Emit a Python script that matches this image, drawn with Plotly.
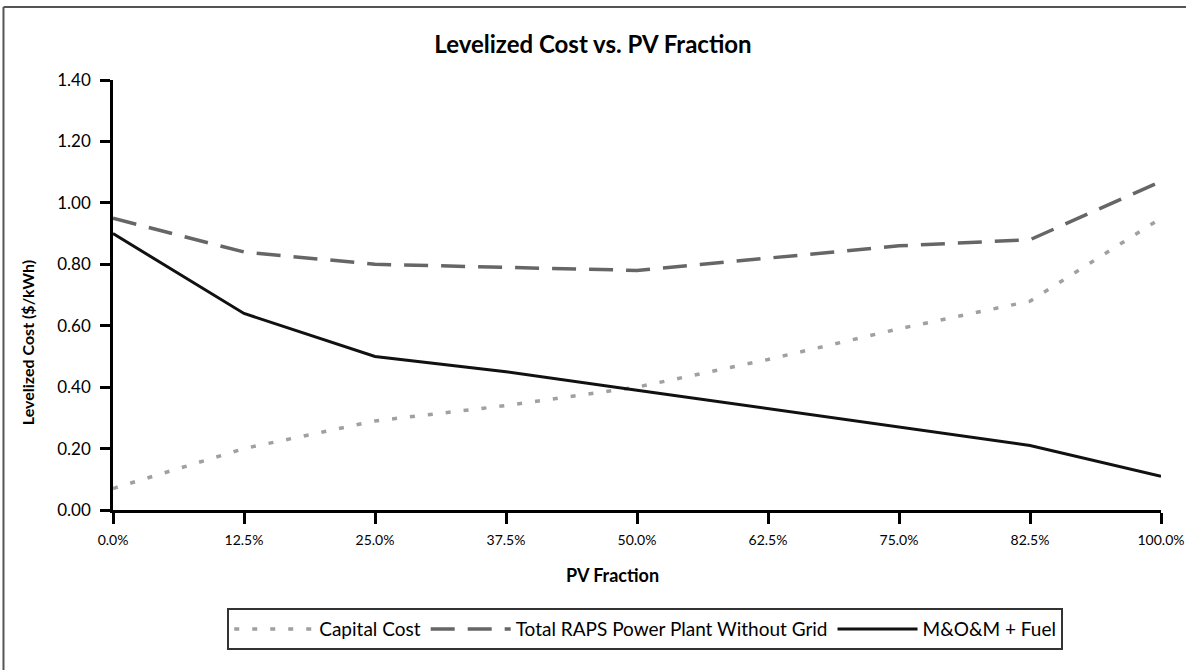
import plotly.graph_objects as go

# PV fraction categories (evenly spaced on the original chart)
pv_fraction = ["0.0%", "12.5%", "25.0%", "37.5%", "50.0%", "62.5%", "75.0%", "82.5%", "100.0%"]

capital_cost = [0.07, 0.20, 0.29, 0.34, 0.40, 0.49, 0.59, 0.68, 0.95]
total_raps = [0.95, 0.84, 0.80, 0.79, 0.78, 0.82, 0.86, 0.88, 1.07]
mom_fuel = [0.90, 0.64, 0.50, 0.45, 0.39, 0.33, 0.27, 0.21, 0.11]

y_ticks = [0.0, 0.2, 0.4, 0.6, 0.8, 1.0, 1.2, 1.4]

FONT = "Lato"

fig = go.Figure()

fig.add_trace(go.Scatter(
    x=pv_fraction, y=capital_cost, name="Capital Cost", mode="lines",
    line=dict(color="#a0a0a0", width=3.5, dash="5px,13px"),
))
fig.add_trace(go.Scatter(
    x=pv_fraction, y=total_raps, name="Total RAPS Power Plant Without Grid", mode="lines",
    line=dict(color="#666666", width=3.5, dash="24px,13px"),
))
fig.add_trace(go.Scatter(
    x=pv_fraction, y=mom_fuel, name="M&O&M + Fuel", mode="lines",
    line=dict(color="#111111", width=3),
))

# thin frame remnant just right of the last category
fig.add_shape(type="line", xref="x", yref="y", x0=8.07, x1=8.07,
              y0=mom_fuel[-1], y1=total_raps[-1],
              line=dict(color="#777777", width=1.5))

# outer border: only the left and top edges show in the picture
border = dict(color="#555555", width=2)
fig.add_shape(type="line", xref="paper", yref="paper",
              x0=-0.1045, x1=-0.1045, y0=-0.5, y1=1.1698, line=border)
fig.add_shape(type="line", xref="paper", yref="paper",
              x0=-0.1045, x1=1.2, y0=1.1698, y1=1.1698, line=border)

fig.add_annotation(text="<b>Levelized Cost ($/kWh)</b>", textangle=-90,
                   xref="paper", yref="paper", x=-0.082, y=0.388,
                   xanchor="center", yanchor="middle",
                   showarrow=False, font=dict(family=FONT, size=16, color="black"))
fig.add_annotation(text="<b>PV Fraction</b>",
                   xref="paper", yref="paper", x=0.477, y=-0.151,
                   xanchor="center", yanchor="middle",
                   showarrow=False, font=dict(family=FONT, size=18, color="black"))

fig.update_layout(
    width=1186, height=670,
    margin=dict(l=113, r=25, t=80, b=160),
    paper_bgcolor="white", plot_bgcolor="white",
    font=dict(family=FONT, color="black"),
    title=dict(text="<b>Levelized Cost vs. PV Fraction</b>", x=0.5, xref="container",
               y=0.933, yref="container", xanchor="center", yanchor="middle",
               font=dict(family=FONT, size=24, color="black")),
    showlegend=True,
    legend=dict(orientation="h", x=0.109, y=-0.228, xanchor="left", yanchor="top",
                bordercolor="#333333", borderwidth=2, bgcolor="white",
                font=dict(family=FONT, size=19, color="black"),
                itemwidth=80, tracegroupgap=0),
)

fig.update_xaxes(
    type="category", range=[0, 8], showgrid=False, zeroline=False, automargin=False,
    showline=True, linecolor="black", linewidth=2.5,
    ticks="outside", ticklen=11, tickwidth=2.5, tickcolor="black",
    tickfont=dict(family=FONT, size=14), ticklabelstandoff=4,
)
fig.update_yaxes(
    range=[0, 1.4], tickvals=y_ticks, tickformat=".2f", showgrid=False, zeroline=False,
    automargin=False,
    showline=True, linecolor="black", linewidth=2.5,
    ticks="outside", ticklen=10, tickwidth=2.5, tickcolor="black",
    tickfont=dict(family=FONT, size=17), ticklabelstandoff=6,
)

# drop the browser's default page margin and scrollbars so the figure fills the window
fig.write_html("out.html", config={"displayModeBar": False},
               post_script="document.body.style.margin='0';"
                           "document.body.style.overflow='hidden';")
